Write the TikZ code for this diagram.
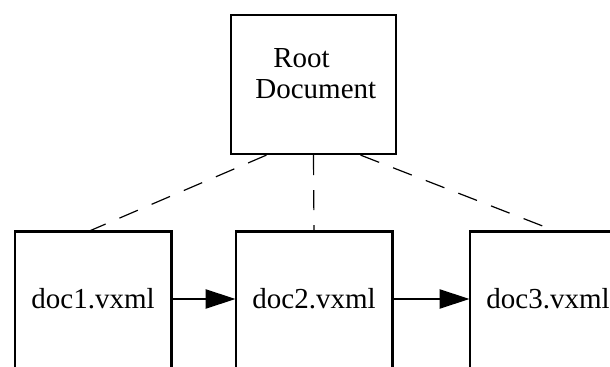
\documentclass[tikz,border=0pt]{standalone}
\usepackage{fontspec}
\setmainfont{Liberation Serif}
\usetikzlibrary{arrows.meta}

\tikzset{
  boxline/.style={line width=1.1pt},
  docbox/.style={minimum width=78pt,minimum height=67pt,inner sep=0pt,
    font=\fontsize{14.5}{15.5}\selectfont},
  flow/.style={line width=1.1pt,-{Triangle[length=15pt,width=9.5pt]}},
  link/.style={line width=0.6pt,dash pattern=on 10pt off 7.5pt}
}

\begin{document}
\begin{tikzpicture}[x=1pt,y=1pt]
	\useasboundingbox (0,0) rectangle (305,-183.5); % Fixes the page size...

	\node[draw,boxline,minimum width=82.5pt,minimum height=69.5pt] (root) at (156.75,-42.25) {};
	\node[anchor=north west,inner sep=0pt,align=left,
		font=\fontsize{14.5}{15.5}\selectfont] (roottext) at (127.5,-24)
		{\hspace{9pt}Root\\Document};

	\foreach \i/\x in {1/46.5,2/157,3/274}{% One box per document
		\node[docbox] (d\i) at (\x,-149.5) {doc\i.vxml};
		% Only three sides: the boxes run off the bottom edge
		\draw[boxline] ([yshift=-10pt]d\i.south west) |- (d\i.north east)
			-- ([yshift=-10pt]d\i.south east);
	}

	\draw[flow] (d1) -- (d2);
	\draw[flow] (d2) -- (d3);

	\draw[link] ([xshift=-23.5pt]root.south) -- ([xshift=-2.5pt]d1.north);
	\draw[link] (root.south) -- (d2.north);
	\draw[link] ([xshift=23.5pt]root.south) -- ([xshift=4.5pt]d3.north);

\end{tikzpicture}
\end{document}
